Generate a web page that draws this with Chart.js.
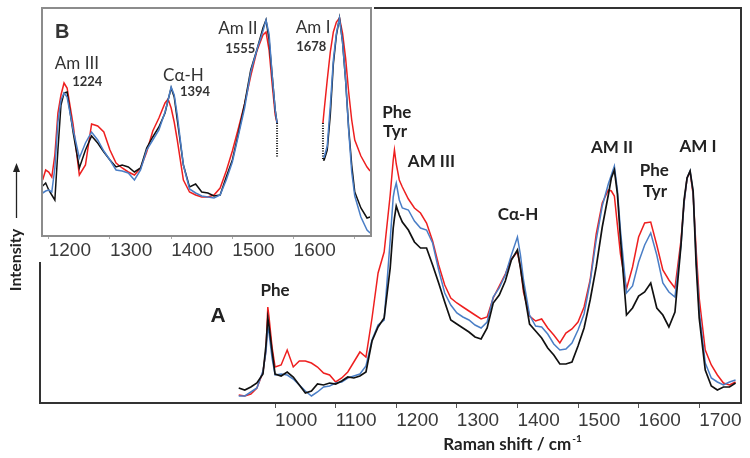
<!DOCTYPE html>
<html>
<head>
<meta charset="utf-8">
<script src="https://cdn.jsdelivr.net/npm/chart.js@4.4.0/dist/chart.umd.min.js"></script>
<style>
  html, body { margin: 0; padding: 0; background: #fff; }
  #wrap { position: relative; width: 750px; height: 458px; overflow: hidden; }
  #mainChart { position: absolute; left: 0; top: 0; }
  #insetChart { position: absolute; left: 38px; top: 4px; }
</style>
</head>
<body>
<div id="wrap">
  <canvas id="mainChart" width="750" height="458"></canvas>
  <canvas id="insetChart" width="336" height="258"></canvas>
</div>
<script>
// main spectrum (panel A), Raman shift in cm-1, intensity in arbitrary units
const mainShift = [940, 950, 960, 970, 980, 985, 988, 990, 995, 1000,
    1010, 1020, 1030, 1040, 1050, 1060, 1070, 1080, 1090, 1100,
    1110, 1120, 1130, 1140, 1150, 1160, 1170, 1180, 1190, 1195,
    1197, 1200, 1205, 1210, 1220, 1230, 1240, 1250, 1260, 1270,
    1280, 1290, 1300, 1310, 1320, 1330, 1340, 1350, 1360, 1370,
    1380, 1390, 1400, 1405, 1410, 1420, 1430, 1440, 1450, 1460,
    1470, 1480, 1490, 1500, 1510, 1520, 1530, 1540, 1550, 1555,
    1560, 1565, 1570, 1580, 1590, 1600, 1610, 1620, 1630, 1640,
    1650, 1660, 1670, 1675, 1680, 1685, 1690, 1695, 1700, 1710,
    1720, 1730, 1740, 1750, 1760];
const mainRed = [8, 7, 9, 15, 31, 53, 96, 86, 56, 36,
    38, 53, 36, 42, 42, 40, 36, 30, 28, 21,
    25, 31, 41, 51, 46, 85, 130, 151, 208, 243,
    253, 239, 223, 216, 204, 195, 190, 180, 162, 138,
    118, 105, 100, 96, 92, 88, 84, 86, 105, 117,
    129, 144, 151, 136, 111, 87, 82, 84, 75, 68,
    60, 70, 74, 81, 96, 123, 169, 200, 213, 212,
    207, 178, 149, 114, 136, 166, 180, 181, 158, 133,
    123, 115, 163, 200, 225, 231, 208, 153, 105, 53,
    38, 28, 20, 18, 21];
const mainBlue = [7, 7, 11, 15, 32, 51, 76, 70, 45, 28,
    29, 28, 24, 18, 12, 7, 11, 16, 17, 20,
    21, 25, 27, 29, 37, 63, 78, 83, 163, 206,
    213, 220, 203, 195, 193, 182, 175, 173, 160, 133,
    110, 98, 90, 86, 83, 78, 75, 81, 106, 115,
    128, 148, 166, 148, 123, 88, 77, 76, 69, 59,
    53, 54, 60, 73, 89, 121, 163, 197, 219, 228,
    237, 213, 173, 110, 117, 141, 158, 170, 148, 120,
    111, 106, 158, 200, 225, 232, 211, 143, 93, 40,
    25, 21, 18, 21, 23];
const mainBlack = [15, 13, 16, 20, 29, 58, 85, 77, 52, 29,
    27, 31, 26, 18, 10, 12, 19, 18, 20, 19,
    22, 26, 25, 27, 31, 62, 76, 85, 135, 175,
    185, 197, 188, 181, 173, 161, 155, 155, 138, 120,
    101, 83, 79, 75, 71, 66, 64, 75, 100, 108,
    122, 143, 153, 135, 115, 79, 72, 65, 55, 48,
    39, 39, 41, 57, 75, 103, 136, 176, 208, 225,
    233, 209, 165, 88, 95, 107, 111, 120, 95, 88,
    76, 91, 158, 203, 225, 232, 212, 138, 85, 33,
    17, 13, 16, 16, 20];
const mainTicks = [1000, 1100, 1200, 1300, 1400, 1500, 1600, 1700];

// inset (panel B), null marks the cut between the two windows
const insetShift = [1190, 1195, 1200, 1205, 1210, 1215, 1220, 1225, 1230,
    1240, 1250, 1260, 1270, 1280, 1290, 1300, 1310, 1320, 1330,
    1340, 1350, 1360, 1370, 1380, 1390, 1395, 1400, 1405, 1410,
    1420, 1430, 1440, 1450, 1460, 1470, 1480, 1490, 1500, 1510,
    1520, 1530, 1540, 1550, 1555, 1560, 1565, 1570, 1573,
    1610,
    1648, 1650, 1655, 1660, 1665, 1670, 1675, 1680, 1685, 1690,
    1695, 1700, 1710, 1720, 1725];
const insetRed = [56, 66, 64, 59, 81, 123, 141, 153, 148,
    111, 61, 71, 112, 110, 104, 86, 73, 68, 64,
    61, 68, 84, 105, 118, 133, 137, 128, 114, 96,
    56, 44, 41, 39, 39, 41, 48, 65, 85, 108,
    132, 160, 185, 201, 204, 186, 152, 121, 113,
    null,
    113, 126, 156, 184, 204, 214, 218, 203, 178, 144,
    116, 96, 80, 69, 65];
const insetBlue = [43, 45, 46, 44, 68, 114, 136, 143, 139,
    106, 78, 93, 104, 96, 85, 76, 66, 65, 63,
    56, 66, 86, 96, 106, 124, 136, 149, 141, 121,
    71, 47, 43, 40, 39, 38, 41, 56, 74, 101,
    128, 164, 186, 205, 216, 202, 161, 126, 113,
    null,
    79, 79, 90, 130, 176, 203, 218, 194, 156, 106,
    64, 40, 19, 6, 3];
const insetBlack = [50, 53, 46, 41, 36, 86, 131, 143, 144,
    103, 68, 86, 100, 93, 84, 76, 69, 71, 69,
    64, 68, 88, 99, 109, 123, 136, 148, 139, 116,
    71, 49, 52, 44, 43, 40, 41, 59, 76, 103,
    132, 166, 186, 208, 216, 196, 161, 126, 113,
    null,
    76, 76, 86, 121, 172, 201, 218, 194, 156, 108,
    71, 44, 28, 18, 19];
const insetTicks = [1200, 1300, 1400, 1500, 1600, 1700];
const breakShift = [1573, 1648];
const breakTop = [113, 113];
const breakBottom = [79, 76];

const mainNotes = [
    { text: "Phe", x: 1000, y: 112 },
    { text: "Phe", x: 1201, y: 290 },
    { text: "Tyr", x: 1198, y: 271 },
    { text: "AM III", x: 1258, y: 241 },
    { text: "C\u03b1-H", x: 1401, y: 188 },
    { text: "AM II", x: 1556, y: 255 },
    { text: "Phe", x: 1626, y: 232 },
    { text: "Tyr", x: 1627, y: 211 },
    { text: "AM I", x: 1698, y: 256 },
    { text: "A", x: 906, y: 87, font: "bold 21px 'Liberation Sans', Arial, sans-serif" }
];
const insetNotes = [
    { text: "B", x: 1222, y: 204, font: "bold 20px 'Liberation Sans', Arial, sans-serif" },
    { text: "Am III", x: 1246, y: 172, font: "17px Lato, sans-serif" },
    { text: "1224", x: 1263, y: 154 },
    { text: "C\u03b1-H", x: 1420, y: 160, font: "17px Lato, sans-serif" },
    { text: "1394", x: 1439, y: 144 },
    { text: "Am II", x: 1509, y: 207, font: "17px Lato, sans-serif" },
    { text: "1555", x: 1513, y: 187 },
    { text: "Am I", x: 1632, y: 208, font: "17px Lato, sans-serif" },
    { text: "1678", x: 1629, y: 189 }
];

const RED = "#ee1f1f";
const BLUE = "#4a7ec6";
const BLACK = "#111111";

function series(xs, ys, color, width) {
    return {
        data: xs.map((x, i) => ({ x: x, y: ys[i] })),
        borderColor: color,
        borderWidth: width,
        pointRadius: 0,
        tension: 0,
        fill: false,
        spanGaps: false
    };
}

function breakLine(i) {
    return {
        data: [{ x: breakShift[i], y: breakTop[i] }, { x: breakShift[i], y: breakBottom[i] }],
        borderColor: BLACK,
        borderWidth: 2,
        borderDash: [1, 1.5],
        pointRadius: 0,
        fill: false
    };
}

const framePlugin = {
    id: "frame",
    beforeDraw(chart) {
        const ctx = chart.ctx;
        ctx.save();
        ctx.fillStyle = "#fff";
        ctx.fillRect(0, 0, chart.width, chart.height);
        ctx.restore();
    },
    afterDraw(chart, args, opts) {
        const a = chart.chartArea;
        const ctx = chart.ctx;
        ctx.save();
        ctx.strokeStyle = opts.color;
        ctx.lineWidth = opts.width;
        ctx.strokeRect(a.left, a.top, a.right - a.left, a.bottom - a.top);
        ctx.restore();
    }
};

const notesPlugin = {
    id: "notes",
    afterDatasetsDraw(chart, args, opts) {
        const ctx = chart.ctx;
        const xs = chart.scales.x, ys = chart.scales.y;
        ctx.save();
        ctx.textAlign = "center";
        ctx.textBaseline = "middle";
        opts.items.forEach(n => {
            ctx.font = n.font || opts.font;
            ctx.fillStyle = opts.color;
            ctx.fillText(n.text, xs.getPixelForValue(n.x), ys.getPixelForValue(n.y));
        });
        ctx.restore();
    }
};

const titlesPlugin = {
    id: "titles",
    afterDraw(chart) {
        const ctx = chart.ctx;
        ctx.save();
        ctx.fillStyle = "#222";
        // x title with superscript
        const base = "Raman shift / cm";
        const sup = "-1";
        ctx.font = "bold 17px Lato, sans-serif";
        const w1 = ctx.measureText(base).width;
        ctx.font = "bold 10px Lato, sans-serif";
        const w2 = ctx.measureText(sup).width;
        const x0 = 512 - (w1 + w2) / 2;
        ctx.textBaseline = "alphabetic";
        ctx.textAlign = "left";
        ctx.font = "bold 17px Lato, sans-serif";
        ctx.fillText(base, x0, 450);
        ctx.font = "bold 10px Lato, sans-serif";
        ctx.fillText(sup, x0 + w1 + 1, 442);
        // y title with arrow
        ctx.save();
        ctx.translate(16, 260);
        ctx.rotate(-Math.PI / 2);
        ctx.font = "bold 16px Lato, sans-serif";
        ctx.textAlign = "center";
        ctx.textBaseline = "middle";
        ctx.fillText("Intensity", 0, 0);
        ctx.restore();
        ctx.strokeStyle = "#222";
        ctx.lineWidth = 1.3;
        ctx.beginPath();
        ctx.moveTo(16.5, 218);
        ctx.lineTo(16.5, 170);
        ctx.stroke();
        ctx.beginPath();
        ctx.moveTo(16.5, 163);
        ctx.lineTo(13, 172);
        ctx.lineTo(20, 172);
        ctx.closePath();
        ctx.fill();
        ctx.restore();
    }
};

new Chart(document.getElementById("mainChart"), {
    type: "line",
    data: {
        datasets: [
            series(mainShift, mainBlack, BLACK, 1.7),
            series(mainShift, mainBlue, BLUE, 1.5),
            series(mainShift, mainRed, RED, 1.5)
        ]
    },
    options: {
        responsive: false,
        animation: false,
        devicePixelRatio: 1,
        layout: { padding: { left: 40, top: 8, right: 9, bottom: 0 } },
        plugins: {
            legend: { display: false },
            tooltip: { enabled: false },
            frame: { color: "#333", width: 2 },
            notes: { items: mainNotes, font: "bold 17px Lato, sans-serif", color: "#222" }
        },
        scales: {
            x: {
                type: "linear",
                min: 612,
                max: 1769,
                afterBuildTicks: s => { s.ticks = mainTicks.map(v => ({ value: v })); },
                afterFit: s => { s.height = 55; },
                border: { display: false },
                grid: { drawOnChartArea: false, drawTicks: true, tickLength: 5, color: "#555" },
                ticks: {
                    align: "start",
                    autoSkip: false,
                    maxRotation: 0,
                    padding: 1,
                    color: "#3a3a3a",
                    font: { family: "'Liberation Sans', Arial, sans-serif", size: 19 },
                    callback: v => String(v)
                }
            },
            y: { display: false, min: 0, max: 395 }
        }
    },
    plugins: [framePlugin, notesPlugin, titlesPlugin]
});

new Chart(document.getElementById("insetChart"), {
    type: "line",
    data: {
        datasets: [
            series(insetShift, insetBlue, BLUE, 1.5),
            series(insetShift, insetBlack, BLACK, 1.5),
            series(insetShift, insetRed, RED, 1.5),
            breakLine(0),
            breakLine(1)
        ]
    },
    options: {
        responsive: false,
        animation: false,
        devicePixelRatio: 1,
        layout: { padding: { left: 4, top: 4, right: 3, bottom: 0 } },
        plugins: {
            legend: { display: false },
            tooltip: { enabled: false },
            frame: { color: "#8c8c8c", width: 2 },
            notes: { items: insetNotes, font: "bold 13px Lato, sans-serif", color: "#333" }
        },
        scales: {
            x: {
                type: "linear",
                min: 1189,
                max: 1726.5,
                afterBuildTicks: s => { s.ticks = insetTicks.map(v => ({ value: v })); },
                afterFit: s => { s.height = 26; },
                border: { display: false },
                grid: { drawOnChartArea: false, drawTicks: true, tickLength: 3, color: "#aaa" },
                ticks: {
                    align: "start",
                    autoSkip: false,
                    maxRotation: 0,
                    padding: 0,
                    color: "#3a3a3a",
                    font: { family: "'Liberation Sans', Arial, sans-serif", size: 19 },
                    callback: v => (v === 1700 ? "" : String(v))
                }
            },
            y: { display: false, min: 0, max: 228 }
        }
    },
    plugins: [framePlugin, notesPlugin]
});
</script>
</body>
</html>
